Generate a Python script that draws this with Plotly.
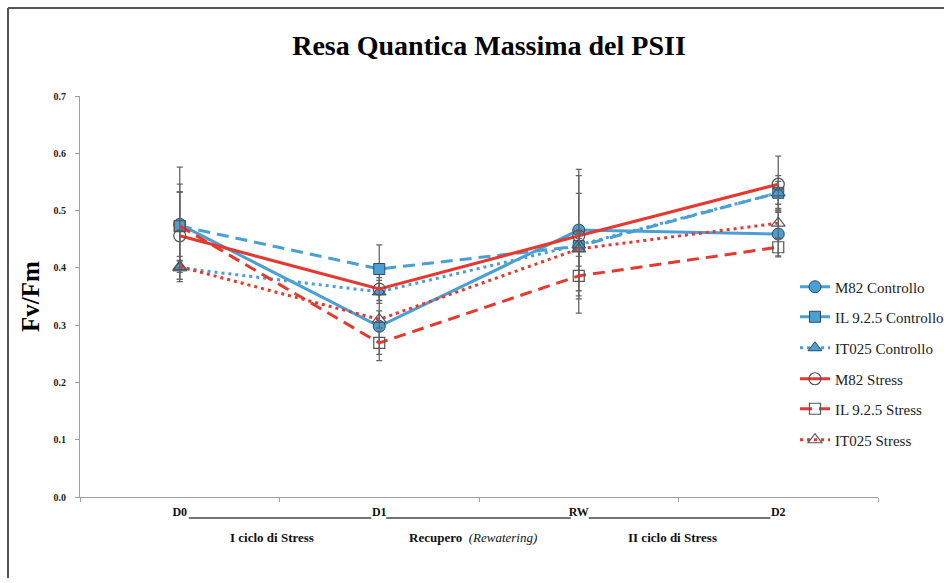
import plotly.graph_objects as go

# ---------------- data ----------------
categories = ["D0", "D1", "RW", "D2"]

series_names = [
    "M82 Controllo",
    "IL 9.2.5 Controllo",
    "IT025 Controllo",
    "M82 Stress",
    "IL 9.2.5 Stress",
    "IT025 Stress",
]

m82_controllo = [0.476, 0.298, 0.466, 0.459]
il925_controllo = [0.473, 0.398, 0.438, 0.531]
it025_controllo = [0.400, 0.358, 0.440, 0.531]
m82_stress = [0.456, 0.363, 0.456, 0.546]
il925_stress = [0.473, 0.269, 0.386, 0.436]
it025_stress = [0.402, 0.310, 0.433, 0.478]

m82_controllo_err = [0.100, 0.060, 0.106, 0.040]
il925_controllo_err = [0.060, 0.042, 0.092, 0.020]
it025_controllo_err = [0.020, 0.020, 0.020, 0.030]
m82_stress_err = [0.076, 0.020, 0.105, 0.049]
il925_stress_err = [0.073, 0.020, 0.065, 0.015]
it025_stress_err = [0.010, 0.015, 0.030, 0.026]

phase_labels = ["<b>I ciclo di Stress</b>",
                "<b>Recupero</b>  <i>(Rewatering)</i>",
                "<b>II ciclo di Stress</b>"]

title_text = "Resa Quantica Massima del PSII"
y_title = "Fv/Fm"
y_ticks = [0.0, 0.1, 0.2, 0.3, 0.4, 0.5, 0.6, 0.7]

# ---------------- layout geometry ----------------
W, H = 944, 583
L, R, T, B = 80, 878, 96, 497   # plot area in pixels


def px_x(px):
    return (px - L) / (R - L)


def px_y(py):
    return (B - py) / (B - T)


SERIF = "Liberation Serif, Times New Roman, serif"
BLUE = "#4A9FD5"
RED = "#E5392F"
EDGE = "#2E4A66"
OPEN = "#555555"
ERRC = "#666666"

values = [m82_controllo, il925_controllo, it025_controllo,
          m82_stress, il925_stress, it025_stress]
errors = [m82_controllo_err, il925_controllo_err, it025_controllo_err,
          m82_stress_err, il925_stress_err, it025_stress_err]
styles = [
    dict(color=BLUE, dash="solid", symbol="circle", mcolor=BLUE, size=12),
    dict(color=BLUE, dash="12px,7px", symbol="square", mcolor=BLUE, size=11),
    dict(color=BLUE, dash="3px,4px", symbol="triangle-up", mcolor=BLUE, size=12),
    dict(color=RED, dash="solid", symbol="circle-open", mcolor=OPEN, size=12),
    dict(color=RED, dash="12px,7px", symbol="square-open", mcolor=OPEN, size=11),
    dict(color=RED, dash="3px,4px", symbol="triangle-up-open", mcolor=OPEN, size=12),
]
legend_centers = [287, 317, 348, 379, 409, 440]

fig = go.Figure()
for i, (name, vals, errs, st) in enumerate(zip(series_names, values, errors, styles)):
    lg = "legend" if i == 0 else f"legend{i + 1}"
    marker = dict(symbol=st["symbol"], size=st["size"], color=st["mcolor"])
    if st["symbol"].endswith("open"):
        marker["line"] = dict(width=1.2, color=OPEN)
    else:
        marker["line"] = dict(width=1, color=EDGE)
    fig.add_trace(go.Scatter(
        x=categories, y=vals, name=name, mode="lines+markers",
        line=dict(color=st["color"], width=3, dash=st["dash"]),
        marker=marker,
        error_y=dict(type="data", array=errs, visible=True,
                     color=ERRC, thickness=1.3, width=3),
        legend=lg, showlegend=True,
    ))

# one legend per entry so the vertical spacing matches the reference
legends = {}
for i, yc in enumerate(legend_centers):
    key = "legend" if i == 0 else f"legend{i + 1}"
    legends[key] = dict(
        xref="container", yref="container",
        x=795 / W, y=1 - yc / H, xanchor="left", yanchor="middle",
        bgcolor="rgba(0,0,0,0)", borderwidth=0,
        font=dict(family=SERIF, size=15, color="#222222"),
        itemwidth=30, tracegroupgap=0,
    )

shapes = []
# underline segments between the time points
for x0, x1 in [(0.045, 0.96), (1.035, 1.96), (2.05, 2.96)]:
    shapes.append(dict(type="line", xref="x", yref="paper",
                       x0=x0, x1=x1, y0=px_y(518), y1=px_y(518),
                       line=dict(color="#444444", width=1.5)))
# outer frame (left and top edges)
shapes.append(dict(type="line", xref="paper", yref="paper",
                   x0=px_x(8), x1=px_x(8), y0=px_y(8), y1=px_y(578),
                   line=dict(color="#555555", width=2)))
shapes.append(dict(type="line", xref="paper", yref="paper",
                   x0=px_x(8), x1=px_x(946), y0=px_y(8), y1=px_y(8),
                   line=dict(color="#555555", width=2)))

annotations = []
for xi, txt in zip([0.46, 1.47, 2.47], phase_labels):
    annotations.append(dict(x=xi, y=px_y(537), xref="x", yref="paper",
                            text=txt, showarrow=False,
                            font=dict(family=SERIF, size=13, color="#111111"),
                            xanchor="center", yanchor="middle"))
annotations.append(dict(x=px_x(30), y=px_y(297), xref="paper", yref="paper",
                        text=f"<b>{y_title}</b>", showarrow=False, textangle=-90,
                        font=dict(family=SERIF, size=25, color="#000000"),
                        xanchor="center", yanchor="middle"))

fig.update_layout(
    width=W, height=H,
    showlegend=True,
    margin=dict(l=L, r=W - R, t=T, b=H - B, pad=0, autoexpand=False),
    paper_bgcolor="white", plot_bgcolor="white",
    title=dict(text=f"<b>{title_text}</b>", x=489 / W, y=1 - 45 / H,
               xanchor="center", yanchor="middle", xref="container", yref="container",
               font=dict(family=SERIF, size=28, color="#000000")),
    xaxis=dict(type="category", categoryorder="array", categoryarray=categories,
               range=[-0.5, 3.5], showgrid=False, zeroline=False,
               showline=True, linecolor="#A0A0A0", linewidth=1,
               ticks="outside", tickson="boundaries", ticklen=4, tickcolor="#A0A0A0",
               ticklabelstandoff=4,
               tickfont=dict(family=SERIF, size=12, color="#111111", weight="bold")),
    yaxis=dict(range=[0, 0.7], tickvals=y_ticks, tickformat=".1f",
               showgrid=False, zeroline=False,
               showline=True, linecolor="#A0A0A0", linewidth=1,
               ticks="outside", ticklen=4, tickcolor="#A0A0A0",
               ticklabelstandoff=7,
               tickfont=dict(family=SERIF, size=10, color="#222222", weight="bold")),
    shapes=shapes,
    annotations=annotations,
    **legends,
)

fig.write_html("out.html")
